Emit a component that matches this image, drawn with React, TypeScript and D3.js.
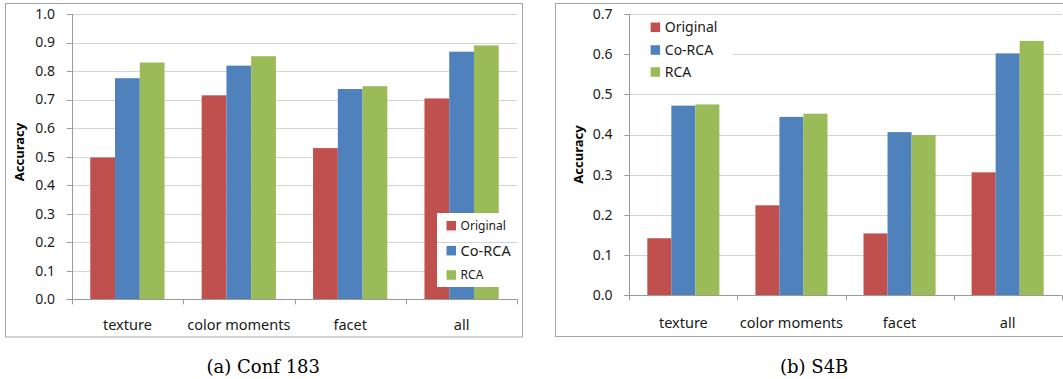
import React from "react";
import * as d3 from "d3";

const categories = ["texture", "color moments", "facet", "all"];
const seriesNames = ["Original", "Co-RCA", "RCA"];
const seriesColors = ["#C0504D", "#4F81BD", "#9BBB59"];

const conf183Original = [0.497, 0.715, 0.53, 0.704];
const conf183CoRCA = [0.775, 0.819, 0.737, 0.868];
const conf183RCA = [0.83, 0.852, 0.747, 0.89];

const s4bOriginal = [0.142, 0.224, 0.154, 0.306];
const s4bCoRCA = [0.472, 0.444, 0.406, 0.602];
const s4bRCA = [0.475, 0.452, 0.399, 0.633];

const conf183Ticks = [0, 0.1, 0.2, 0.3, 0.4, 0.5, 0.6, 0.7, 0.8, 0.9, 1.0];
const s4bTicks = [0, 0.1, 0.2, 0.3, 0.4, 0.5, 0.6, 0.7];

const FONT = "'Noto Sans', 'Open Sans', sans-serif";
const GRID = "#D4D4D4";
const AXIS = "#9A9A9A";
const BORDER = "#A6A6A6";

type PanelProps = {
  border: { x: number; y: number; w: number; h: number };
  x0: number;
  x1: number;
  yTop: number;
  yBottom: number;
  yMax: number;
  ticks: number[];
  series: number[][];
  titleX: number;
  titleY: number;
  catY: number;
  legend: "box" | "top";
};

function Panel(p: PanelProps) {
  const x = d3
    .scaleBand<string>()
    .domain(categories)
    .range([p.x0, p.x1])
    .paddingInner(1 / 3)
    .paddingOuter(1 / 6);
  const sub = d3.scaleBand<string>().domain(seriesNames).range([0, x.bandwidth()]);
  const y = d3.scaleLinear().domain([0, p.yMax]).range([p.yBottom, p.yTop]);
  const step = x.step();
  const bounds = d3.range(categories.length + 1).map((i) => p.x0 + i * step);

  return (
    <g>
      <rect x={p.border.x + 0.5} y={p.border.y + 0.5} width={p.border.w} height={p.border.h} fill="#fff" stroke={BORDER} strokeWidth={1} />
      {p.ticks.filter((t) => t > 0).map((t) => (
        <line key={"g" + t} x1={p.x0} x2={p.x1} y1={Math.round(y(t)) + 0.5} y2={Math.round(y(t)) + 0.5} stroke={GRID} strokeWidth={1} />
      ))}
      {categories.map((c, ci) =>
        seriesNames.map((s, si) => {
          const v = p.series[si][ci];
          return (
            <rect
              key={c + s}
              x={(x(c) as number) + (sub(s) as number)}
              y={y(v)}
              width={sub.bandwidth()}
              height={y(0) - y(v)}
              fill={seriesColors[si]}
            />
          );
        })
      )}
      {p.legend === "box" ? (
        <g>
          <rect x={437} y={213} width={p.x1 - 437} height={74} fill="#fff" />
          <line x1={437} x2={p.x1} y1={Math.round(y(0.2)) + 0.5} y2={Math.round(y(0.2)) + 0.5} stroke={GRID} />
          {seriesNames.map((s, i) => {
            const cy = [225.7, 250.7, 275][i];
            const fs = [12, 14.5, 12][i];
            return (
              <g key={s}>
                <rect x={446.5} y={cy - 4.75} width={9.5} height={9.5} fill={seriesColors[i]} />
                <text x={460.6} y={cy} dy="0.35em" fontSize={fs} fontFamily={FONT} fill="#1a1a1a">
                  {s}
                </text>
              </g>
            );
          })}
        </g>
      ) : (
        <g>
          <rect x={p.x0 + 1} y={16} width={102} height={70} fill="#fff" />
          {seriesNames.map((s, i) => {
            const cy = [27.3, 50, 72][i];
            return (
              <g key={s}>
                <rect x={650.6} y={cy - 4.75} width={9.5} height={9.5} fill={seriesColors[i]} />
                <text x={664.8} y={cy} dy="0.35em" fontSize={14} fontFamily={FONT} fill="#1a1a1a">
                  {s}
                </text>
              </g>
            );
          })}
        </g>
      )}
      <line x1={Math.round(p.x0) + 0.5} x2={Math.round(p.x0) + 0.5} y1={p.yTop} y2={p.yBottom} stroke={AXIS} />
      <line x1={p.x0 - 5} x2={p.x1} y1={Math.round(p.yBottom) + 0.5} y2={Math.round(p.yBottom) + 0.5} stroke={AXIS} />
      {p.ticks.map((t) => (
        <g key={"t" + t}>
          <line x1={p.x0 - 5} x2={p.x0} y1={Math.round(y(t)) + 0.5} y2={Math.round(y(t)) + 0.5} stroke={AXIS} />
          <text x={p.x0 - 16.7} y={y(t)} dy="0.35em" textAnchor="end" fontSize={14} fontFamily={FONT} fill="#1a1a1a">
            {t.toFixed(1)}
          </text>
        </g>
      ))}
      {bounds.map((b, i) => (
        <line key={"b" + i} x1={Math.round(b) + 0.5} x2={Math.round(b) + 0.5} y1={p.yBottom} y2={p.yBottom + 5} stroke={AXIS} />
      ))}
      {categories.map((c) => (
        <text key={"c" + c} x={(x(c) as number) + x.bandwidth() / 2} y={p.catY} dy="0.35em" textAnchor="middle" fontSize={14.5} fontFamily={FONT} fill="#1a1a1a">
          {c}
        </text>
      ))}
      <text
        transform={`translate(${p.titleX},${p.titleY}) rotate(-90)`}
        dy="0.35em"
        textAnchor="middle"
        fontSize={13}
        fontWeight="bold"
        fontFamily={FONT}
        fill="#000"
      >
        Accuracy
      </text>
    </g>
  );
}

export default function App() {
  return (
    <svg width={1063} height={379} style={{ position: "absolute", left: 0, top: 0, background: "#fff" }}>
      <rect x={0} y={0} width={1063} height={379} fill="#fff" />
      <Panel
        border={{ x: 5, y: 3, w: 517, h: 333.5 }}
        x0={71.7}
        x1={517.3}
        yTop={14}
        yBottom={299.3}
        yMax={1.0}
        ticks={conf183Ticks}
        series={[conf183Original, conf183CoRCA, conf183RCA]}
        titleX={19}
        titleY={152}
        catY={325}
        legend="box"
      />
      <Panel
        border={{ x: 555, y: 3, w: 520, h: 333 }}
        x0={629.3}
        x1={1061.7}
        yTop={14}
        yBottom={295.3}
        yMax={0.7}
        ticks={s4bTicks}
        series={[s4bOriginal, s4bCoRCA, s4bRCA]}
        titleX={578.5}
        titleY={154.5}
        catY={322.7}
        legend="top"
      />
      <text x={263.3} y={373} textAnchor="middle" fontSize={18} fontFamily="'DejaVu Serif', serif" fill="#000">
        (a) Conf 183
      </text>
      <text x={814.2} y={373} textAnchor="middle" fontSize={18} fontFamily="'DejaVu Serif', serif" fill="#000">
        (b) S4B
      </text>
    </svg>
  );
}
